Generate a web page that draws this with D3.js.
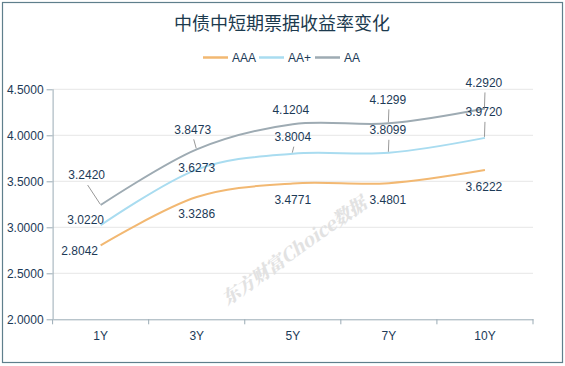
<!DOCTYPE html>
<html>
<head>
<meta charset="utf-8">
<script src="https://cdn.jsdelivr.net/npm/d3@7"></script>
<style>
  body { margin: 0; background: #fff; }
  svg { display: block; }
</style>
</head>
<body>
<div id="chart"></div>
<script>
// données
const categories = ["1Y", "3Y", "5Y", "7Y", "10Y"];
const aaa = [2.8042, 3.3286, 3.4771, 3.4801, 3.6222];
const aaPlus = [3.0220, 3.6273, 3.8004, 3.8099, 3.9720];
const aa = [3.2420, 3.8473, 4.1204, 4.1299, 4.2920];
const yTicks = [2.0, 2.5, 3.0, 3.5, 4.0, 4.5];
const seriesNames = ["AAA", "AA+", "AA"];

// placement des étiquettes (décalage par rapport au point)
const labelDx = [
  [-21, 0, 0, -1, -1],
  [-15, 0, 0, -1, -1],
  [-14, -4, -2, -1, -1]
];
const labelDy = [
  [5, 17, 16, 17, 17],
  [-5, -2, -17, -23, -26],
  [-30, -20, -14, -24, -26]
];
const leader = [
  [false, false, false, false, false],
  [false, false, true, true, true],
  [true, true, false, true, true]
];

const width = 565;
const height = 366;
const colors = ["#f2b872", "#a9dcf0", "#9eabb3"];
const seriesValues = [aaa, aaPlus, aa];

const svg = d3
  .select("#chart")
  .append("svg")
  .attr("width", width)
  .attr("height", height);

// cadre
svg
  .append("rect")
  .attr("x", 2.5)
  .attr("y", 2.5)
  .attr("width", 560)
  .attr("height", 360)
  .attr("fill", "#fff")
  .attr("stroke", "#5f7f8c")
  .attr("stroke-width", 1.2);

// titre
svg
  .append("text")
  .attr("x", 282)
  .attr("y", 30)
  .attr("text-anchor", "middle")
  .attr("font-family", "'Noto Sans CJK SC', sans-serif")
  .attr("font-size", 18)
  .attr("fill", "#1c3a4e")
  .text("中债中短期票据收益率变化");

// légende
const legendX = [203, 259, 315];
seriesNames.forEach((name, i) => {
  const g = svg.append("g").attr("transform", "translate(" + legendX[i] + ",57.5)");
  g.append("line")
    .attr("x1", 0)
    .attr("x2", 25)
    .attr("stroke", colors[i])
    .attr("stroke-width", 2.5);
  g.append("text")
    .attr("x", 29)
    .attr("y", 4)
    .attr("font-family", "'Liberation Sans', Arial, sans-serif")
    .attr("font-size", 12)
    .attr("fill", "#1c3a57")
    .text(name);
});

// échelles
const plot = { left: 52.6, right: 533, top: 89.3, bottom: 319.3 };
const x = d3.scaleBand().domain(categories).range([plot.left, plot.right]);
const y = d3.scaleLinear().domain([2, 4.5]).range([plot.bottom, plot.top]);
const cx = (c) => x(c) + x.bandwidth() / 2;

// grille
svg
  .append("g")
  .selectAll("line")
  .data(yTicks.filter((t) => t > 2))
  .enter()
  .append("line")
  .attr("x1", plot.left)
  .attr("x2", plot.right)
  .attr("y1", (d) => y(d))
  .attr("y2", (d) => y(d))
  .attr("stroke", "#e6e6e6")
  .attr("stroke-width", 1);

// axe Y
const yAxis = svg
  .append("g")
  .attr("transform", "translate(" + plot.left + ",0)")
  .call(
    d3.axisLeft(y)
      .tickValues(yTicks)
      .tickSize(6)
      .tickPadding(3)
      .tickFormat(d3.format(".4f"))
  );
yAxis.select(".domain").attr("stroke", "#9aabb5").attr("d", "M0.5," + plot.top + "V" + plot.bottom);
yAxis.selectAll(".tick line").attr("stroke", "#9aabb5");
yAxis
  .selectAll("text")
  .attr("font-family", "'Liberation Sans', Arial, sans-serif")
  .attr("font-size", 12)
  .attr("fill", "#1c3a57");

// axe X
const xAxis = svg
  .append("g")
  .attr("transform", "translate(0," + plot.bottom + ")")
  .call(d3.axisBottom(x).tickSize(0).tickPadding(12));
xAxis.select(".domain").attr("stroke", "#9aabb5");
xAxis
  .selectAll("text")
  .attr("font-family", "'Liberation Sans', Arial, sans-serif")
  .attr("font-size", 12)
  .attr("fill", "#1c3a57");
// traits de séparation entre catégories
svg
  .append("g")
  .selectAll("line")
  .data(categories.concat(["end"]))
  .enter()
  .append("line")
  .attr("x1", (d, i) => plot.left + i * x.bandwidth())
  .attr("x2", (d, i) => plot.left + i * x.bandwidth())
  .attr("y1", plot.bottom)
  .attr("y2", plot.bottom + 5)
  .attr("stroke", "#9aabb5");

// filigrane
svg
  .append("text")
  .attr("transform", "translate(294,251) rotate(-35.4)")
  .attr("text-anchor", "middle")
  .attr("dy", "0.35em")
  .attr("font-family", "'Noto Serif CJK SC', 'Noto Sans CJK SC', serif")
  .attr("font-weight", "900")
  .attr("font-style", "italic")
  .attr("font-size", 18)
  .attr("fill", "#e2e2e2")
  .text("东方财富Choice数据");

// courbes
const line = d3
  .line()
  .x((d, i) => cx(categories[i]))
  .y((d) => y(d))
  .curve(d3.curveCardinal.tension(0));

seriesValues.forEach((vals, s) => {
  svg
    .append("path")
    .datum(vals)
    .attr("d", line)
    .attr("fill", "none")
    .attr("stroke", colors[s])
    .attr("stroke-width", 2);
});

// étiquettes et lignes de rappel
seriesValues.forEach((vals, s) => {
  vals.forEach((v, i) => {
    const px = cx(categories[i]);
    const py = y(v);
    const lx = px + labelDx[s][i];
    const ly = py + labelDy[s][i];
    if (leader[s][i]) {
      svg
        .append("line")
        .attr("x1", lx + 1)
        .attr("y1", ly + 10)
        .attr("x2", px - 0.5)
        .attr("y2", py - 1)
        .attr("stroke", "#999")
        .attr("stroke-width", 1);
    }
    svg
      .append("text")
      .attr("x", lx)
      .attr("y", ly)
      .attr("dy", "0.35em")
      .attr("text-anchor", "middle")
      .attr("font-family", "'Liberation Sans', Arial, sans-serif")
      .attr("font-size", 12)
      .attr("fill", "#1c3a57")
      .text(v.toFixed(4));
  });
});
</script>
</body>
</html>
